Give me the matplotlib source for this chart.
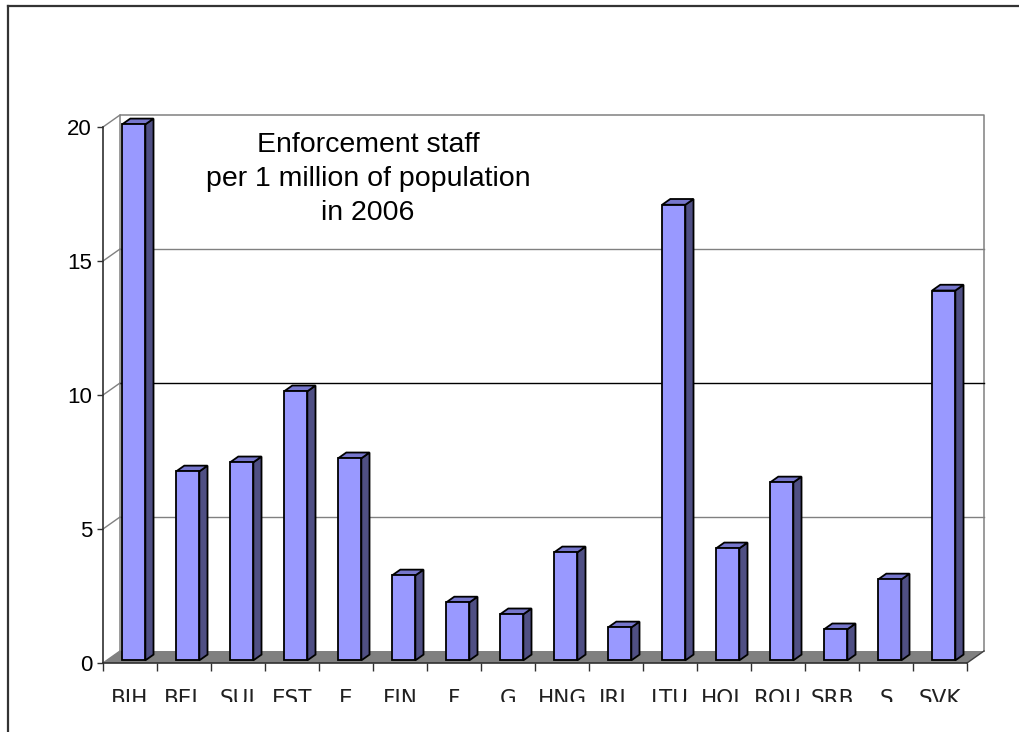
import numpy as np
import matplotlib.pyplot as plt
from matplotlib.patches import Polygon
from matplotlib.lines import Line2D
from matplotlib.transforms import Bbox

countries = ['BIH', 'BEL', 'SUI', 'EST', 'E', 'FIN', 'F', 'G', 'HNG', 'IRL',
             'LTU', 'HOL', 'ROU', 'SRB', 'S', 'SVK']
staff = [20.0, 7.05, 7.39, 10.04, 7.54, 3.17, 2.16, 1.72, 4.03, 1.23,
         17.0, 4.18, 6.64, 1.16, 3.02, 13.8]
yticks = [0, 5, 10, 15, 20]
title = 'Enforcement staff\nper 1 million of population\nin 2006'

W, H = 1020, 732
fig = plt.figure(figsize=(W / 100, H / 100), dpi=100)
# front plot area in pixels
x0, x1, ytop, ybot = 103, 967, 127, 663
ax = fig.add_axes([x0 / W, (H - ybot) / H, (x1 - x0) / W, (ybot - ytop) / H])
n = len(countries)
ax.set_xlim(0, n)
ax.set_ylim(0, 20)
ax.set_facecolor('none')

# depth offset of the 3d box, in data units
pxx = (x1 - x0) / n
pxy = (ybot - ytop) / 20
dx = 17 / pxx
dy = 12 / pxy

wall = '#808080'
# back wall edges and gridlines
ax.plot([dx, dx, n + dx, n + dx], [dy, 20 + dy, 20 + dy, dy], color=wall, lw=1.1,
        clip_on=False, zorder=1)
for v in yticks[1:-1]:
    c = 'black' if v == 10 else wall
    ax.plot([dx, n + dx], [v + dy, v + dy], color=c, lw=1.0, clip_on=False, zorder=1)
for v in yticks:
    ax.plot([0, dx], [v, v + dy], color=wall, lw=1.0, clip_on=False, zorder=1)

# floor
ax.add_patch(Polygon([[0, 0], [n, 0], [n + dx, dy], [dx, dy]], closed=True,
                     facecolor='#808080', edgecolor='none', clip_on=False, zorder=2))
ax.plot([n, n + dx], [0, dy], color='#404040', lw=1.0, clip_on=False, zorder=2)

# bars
bw = 0.43
d0, d1 = 0.22, 0.70
for i, v in enumerate(staff):
    xl = i + 0.5 - bw / 2 + d0 * dx
    xr = xl + bw
    yb = d0 * dy
    yt = v + d0 * dy
    ox, oy = (d1 - d0) * dx, (d1 - d0) * dy
    kw = dict(closed=True, edgecolor='black', lw=1.3, clip_on=False, zorder=3 + i)
    ax.add_patch(Polygon([[xr, yb], [xr + ox, yb + oy], [xr + ox, yt + oy], [xr, yt]],
                         facecolor='#4F4F84', **kw))
    ax.add_patch(Polygon([[xl, yt], [xr, yt], [xr + ox, yt + oy], [xl + ox, yt + oy]],
                         facecolor='#7676CC', **kw))
    ax.add_patch(Polygon([[xl, yb], [xr, yb], [xr, yt], [xl, yt]],
                         facecolor='#9999FF', **kw))

# axes
for s in ['top', 'right']:
    ax.spines[s].set_visible(False)
for s in ['left', 'bottom']:
    ax.spines[s].set_color('#303030')
    ax.spines[s].set_linewidth(1.2)
    ax.spines[s].set_zorder(30)
ax.set_yticks(yticks)
ax.set_yticklabels([str(v) for v in yticks], family='Liberation Sans', fontsize=16)
ax.tick_params(axis='y', length=4.3, width=1.0, pad=3.6, color='#303030')
ax.set_xticks(np.arange(n + 1))
ax.set_xticklabels([])
ax.tick_params(axis='x', length=5.8, width=1.0, color='#303030')

# category labels, cut off at the bottom like the source image
clip = Bbox([[0, H - 702], [W, H]])
for i, name in enumerate(countries):
    t = ax.text(i + 0.5, 0, name, ha='center', va='baseline', fontsize=15.5,
                family='DejaVu Sans', color='#202020',
                transform=ax.get_xaxis_transform())
    t.set_y(-(705 - ybot) / (ybot - ytop))
    t.set_clip_box(clip)
    t.set_clip_on(True)

ax.text((368 - x0) / pxx, (ybot - 179) / pxy, title, ha='center', va='center',
        multialignment='center', fontsize=20.5, family='Liberation Sans',
        linespacing=1.40, zorder=40)

# outer frame (left and top only)
fig.add_artist(Line2D([8 / W, 8 / W], [0, 1 - 6 / H], color='#333333', lw=1.6))
fig.add_artist(Line2D([8 / W, 1], [1 - 6 / H, 1 - 6 / H], color='#333333', lw=1.6))

fig.savefig('out.png', dpi=100)
